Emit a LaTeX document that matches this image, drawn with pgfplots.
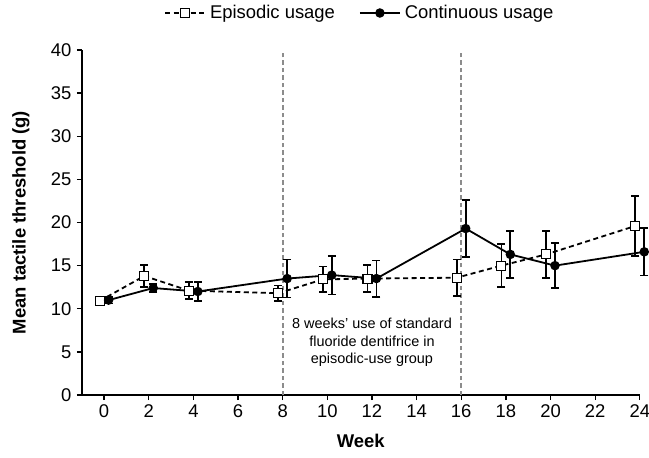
\documentclass[border=0pt]{standalone}
\usepackage{pgfplots}
\pgfplotsset{compat=1.18}
\usepackage{fontspec}
\setmainfont{Liberation Sans}
\begin{document}
\begin{tikzpicture}
\path[use as bounding box] (-81.8bp,-63bp) rectangle (567.2bp,395bp);
\begin{axis}[
  scale only axis, width=558bp, height=345bp,
  at={(0,0)}, anchor=south west,
  xmin=-1, xmax=24, ymin=0, ymax=40,
  axis x line=bottom, axis y line=left,
  axis line style={-, line width=1.6bp, black},
  xtick={0,2,...,24}, ytick={0,5,...,40},
  tick align=outside, major tick length=5bp,
  tick style={line width=1.3bp, black},
  /pgf/number format/assume math mode=true,
  tick label style={font=\fontsize{18.5}{18.5}\selectfont},
  xticklabel style={yshift=-1bp},
  yticklabel style={xshift=-2bp},
  xlabel={\textbf{Week}},
  xlabel style={at={(axis description cs:0.5,0)}, anchor=center, yshift=-46bp, font=\fontsize{18.5}{18.5}\selectfont},
  ylabel={\textbf{Mean tactile threshold (g)}},
  ylabel style={at={(axis description cs:-0.109,0.5)}, anchor=center, font=\fontsize{18.5}{18.5}\selectfont},
  legend columns=2,
  legend style={at={(0.5,1)}, anchor=center, yshift=37bp, draw=none, fill=none,
    font=\fontsize{18.5}{18.5}\selectfont,
    nodes={inner xsep=4bp},
    /tikz/column 2/.style={column sep=20bp}},
  legend image code/.code={\draw[mark repeat=2,mark phase=2,#1] plot coordinates {(0bp,0bp) (20bp,0bp) (40bp,0bp)};},
  clip=false,
]
\addplot[black!45, line width=1.8bp, dash pattern=on 4.5bp off 3bp, forget plot] coordinates {(8,0) (8,40)};
\addplot[black!45, line width=1.8bp, dash pattern=on 4.5bp off 3bp, forget plot] coordinates {(16,0) (16,40)};
\addplot[black, line width=1.8bp, dash pattern=on 5bp off 3.5bp,
  mark=square*, mark size=4.5bp, mark options={solid, fill=white, draw=black, line width=1.1bp},
  error bars/.cd, y dir=both, y explicit,
  error bar style={solid, line width=1.8bp, black},
  error mark options={solid, line width=1.8bp, mark size=4bp, rotate=90}]
coordinates {
(-0.2,10.9) +- (0,0.3)
(1.8,13.8) +- (0,1.25)
(3.8,12.1) +- (0,1.0)
(7.8,11.8) +- (0,0.9)
(9.8,13.4) +- (0,1.5)
(11.8,13.5) +- (0,1.6)
(15.8,13.6) +- (0,2.1)
(17.8,15.0) +- (0,2.5)
(19.8,16.3) +- (0,2.75)
(23.8,19.6) +- (0,3.5)
};
\addlegendentry{Episodic usage}
\addplot[black, line width=1.8bp, solid,
  mark=*, mark size=3.8bp, mark options={solid, fill=black},
  error bars/.cd, y dir=both, y explicit,
  error bar style={solid, line width=1.8bp, black},
  error mark options={solid, line width=1.8bp, mark size=4bp, rotate=90}]
coordinates {
(0.2,11.0) +- (0,0.4)
(2.2,12.4) +- (0,0.5)
(4.2,12.0) +- (0,1.1)
(8.2,13.5) +- (0,2.2)
(10.2,13.9) +- (0,2.25)
(12.2,13.5) +- (0,2.1)
(16.2,19.3) +- (0,3.3)
(18.2,16.3) +- (0,2.7)
(20.2,15.0) +- (0,2.6)
(24.2,16.6) +- (0,2.75)
};
\addlegendentry{Continuous usage}
\node[align=center, font=\fontsize{14.5}{17.5}\selectfont] at (axis cs:12,6.1)
  {8 weeks' use of standard\\fluoride dentifrice in\\episodic-use group};
\end{axis}
\end{tikzpicture}
\end{document}
